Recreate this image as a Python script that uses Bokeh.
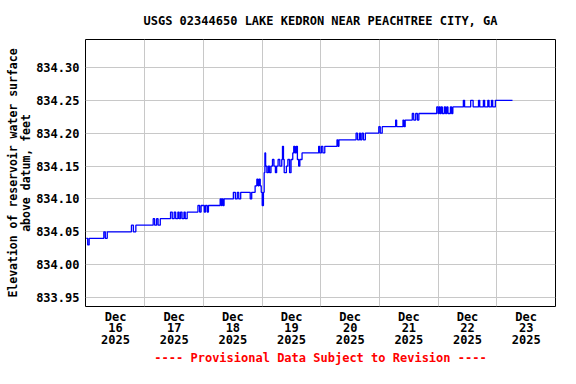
from bokeh.plotting import figure
from bokeh.models import FixedTicker, NumeralTickFormatter, Range1d
from bokeh.embed import file_html
from bokeh.resources import INLINE

# Hours since 2025-12-16 00:00 and gage height (ft) at each change of value
hours = [0.0, 0.6, 1.2, 7.2, 7.8, 8.6, 18.5, 19.3, 20.3, 27.4, 28.0, 28.8, 29.4, 30.3,
         34.5, 35.2, 36.0, 36.6, 37.5, 38.0, 38.6, 39.2, 40.0, 40.5, 41.3,
         45.7, 46.4, 47.0, 48.3, 48.8, 49.5, 50.0,
         54.8, 55.3, 55.6, 56.0, 56.4, 56.8,
         60.2, 61.0, 61.8, 62.4, 63.2, 67.1, 67.7,
         69.1, 69.8, 70.3, 70.7, 71.2, 71.6, 72.0, 72.5, 72.8, 73.1, 73.4, 73.9,
         74.5, 75.0, 75.6, 76.2, 76.8, 77.4, 77.9, 78.5, 79.2, 80.0, 80.3, 80.7,
         81.0, 81.9, 82.5, 83.2, 83.8, 84.5, 84.9, 85.4, 85.9, 86.4, 86.9, 87.4,
         88.3, 95.1, 95.5, 96.2, 96.8, 97.6,
         102.6, 103.0, 103.4, 110.4, 111.0, 111.8, 112.2, 112.8, 113.4, 114.2,
         119.7, 120.3, 121.1, 126.6, 127.0, 129.6, 130.0, 130.5, 130.9,
         133.4, 134.0, 134.8, 135.5, 136.1,
         143.4, 144.0, 144.4, 144.8, 145.2, 145.7, 146.5, 147.0, 147.5, 148.0,
         149.0, 149.5, 150.0,
         154.3, 154.8, 157.3, 158.3, 160.5, 161.0, 162.5, 163.0, 164.3, 164.8,
         165.8, 166.3, 167.4, 174.4]
levels = [834.04, 834.03, 834.04, 834.05, 834.04, 834.05, 834.06, 834.05, 834.06, 834.07, 834.06, 834.07, 834.06, 834.07,
          834.08, 834.07, 834.08, 834.07, 834.08, 834.07, 834.08, 834.07, 834.08, 834.07, 834.08,
          834.09, 834.08, 834.09, 834.08, 834.09, 834.08, 834.09,
          834.10, 834.09, 834.10, 834.09, 834.10, 834.10,
          834.11, 834.10, 834.11, 834.10, 834.11, 834.10, 834.11,
          834.12, 834.13, 834.12, 834.13, 834.12, 834.11, 834.09, 834.11, 834.14, 834.17, 834.15, 834.14,
          834.15, 834.14, 834.15, 834.16, 834.15, 834.14, 834.15, 834.16, 834.15, 834.16, 834.18, 834.16,
          834.14, 834.15, 834.16, 834.14, 834.16, 834.17, 834.18, 834.17, 834.18, 834.16, 834.15, 834.16,
          834.17, 834.18, 834.17, 834.18, 834.17, 834.18,
          834.19, 834.18, 834.19, 834.20, 834.19, 834.20, 834.19, 834.20, 834.19, 834.20,
          834.21, 834.20, 834.21, 834.22, 834.21, 834.22, 834.21, 834.22, 834.22,
          834.23, 834.22, 834.23, 834.22, 834.23,
          834.24, 834.23, 834.24, 834.23, 834.24, 834.23, 834.24, 834.23, 834.24, 834.23,
          834.24, 834.23, 834.24,
          834.25, 834.24, 834.25, 834.24, 834.25, 834.24, 834.25, 834.24, 834.25, 834.24,
          834.25, 834.24, 834.25, 834.25]

label_ticks = [12, 36, 60, 84, 108, 132, 156, 180]
day_labels = ["Dec\n16\n2025", "Dec\n17\n2025", "Dec\n18\n2025", "Dec\n19\n2025",
              "Dec\n20\n2025", "Dec\n21\n2025", "Dec\n22\n2025", "Dec\n23\n2025"]
midnight_ticks = [24, 48, 72, 96, 120, 144, 168]
y_ticks = [833.95, 834.00, 834.05, 834.10, 834.15, 834.20, 834.25, 834.30]

FONT = "DejaVu Sans Mono"

p = figure(width=560, height=368, output_backend="svg", toolbar_location=None,
           x_range=Range1d(-0.3, 192), y_range=Range1d(833.9363, 834.3426),
           min_border_left=85, min_border_right=5, min_border_top=39,
           min_border_bottom=58)

p.title.text = "USGS 02344650 LAKE KEDRON NEAR PEACHTREE CITY, GA"
p.title.align = "center"
p.title.text_font = FONT
p.title.text_font_size = "12px"
p.title.text_font_style = "bold"
p.title.text_color = "black"
p.title.offset = 0
p.title.standoff = 23

p.step(hours, levels, mode="after", line_color="#0000FF", line_width=1.3)

p.outline_line_color = "black"
p.outline_line_width = 1
p.outline_line_alpha = 1

# x axis
p.xaxis.ticker = FixedTicker(ticks=label_ticks)
p.xaxis.major_label_overrides = {t: l for t, l in zip(label_ticks, day_labels)}
p.xaxis.major_tick_line_color = None
p.xaxis.major_tick_out = 0
p.xaxis.major_tick_in = 0
p.xaxis.minor_tick_line_color = None
p.xaxis.axis_line_color = None
p.xaxis.major_label_standoff = 3
p.xaxis.major_label_text_font = FONT
p.xaxis.major_label_text_font_size = "12px"
p.xaxis.major_label_text_font_style = "bold"
p.xaxis.major_label_text_color = "black"
p.xaxis.major_label_text_line_height = 0.85
p.xaxis.axis_label = "---- Provisional Data Subject to Revision ----"
p.xaxis.axis_label_text_font = FONT
p.xaxis.axis_label_text_font_size = "12px"
p.xaxis.axis_label_text_font_style = "bold"
p.xaxis.axis_label_text_color = "#FF0000"
p.xaxis.axis_label_standoff = 1
p.xgrid.ticker = FixedTicker(ticks=midnight_ticks)
p.xgrid.grid_line_color = "#c8c8c8"
p.xgrid.grid_line_width = 1

# y axis
p.yaxis.ticker = FixedTicker(ticks=y_ticks)
p.yaxis.formatter = NumeralTickFormatter(format="0.00")
p.yaxis.major_tick_line_color = None
p.yaxis.major_tick_out = 0
p.yaxis.major_tick_in = 0
p.yaxis.minor_tick_line_color = None
p.yaxis.axis_line_color = None
p.yaxis.major_label_standoff = 6
p.yaxis.major_label_text_font = FONT
p.yaxis.major_label_text_font_size = "12px"
p.yaxis.major_label_text_font_style = "bold"
p.yaxis.major_label_text_color = "black"
p.yaxis.axis_label = "Elevation of reservoir water surface\nabove datum, feet"
p.yaxis.axis_label_text_font = FONT
p.yaxis.axis_label_text_font_size = "11.5px"
p.yaxis.axis_label_text_font_style = "bold"
p.yaxis.axis_label_text_color = "black"
p.yaxis.axis_label_text_line_height = 0.95
p.yaxis.axis_label_standoff = 0
p.ygrid.grid_line_color = "#c8c8c8"
p.ygrid.grid_line_width = 1

p.background_fill_color = "white"
p.border_fill_color = "white"

open("out.html", "w").write(file_html(p, INLINE))
